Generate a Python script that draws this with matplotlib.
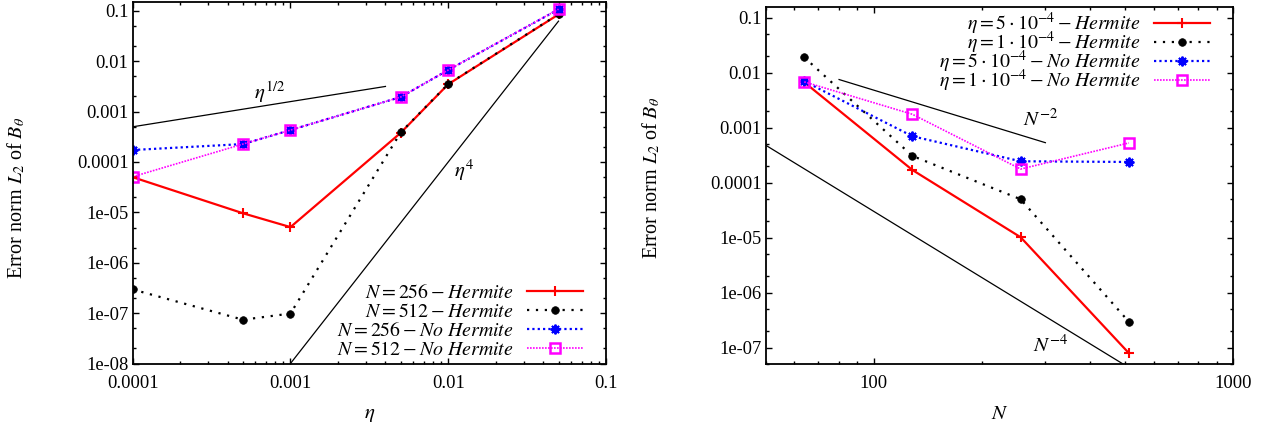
import matplotlib
matplotlib.use("Agg")
import matplotlib.pyplot as plt
import numpy as np
from matplotlib.ticker import FixedLocator, FixedFormatter, NullFormatter

plt.rcParams['font.family'] = ['Liberation Serif', 'DejaVu Serif']
plt.rcParams['mathtext.fontset'] = 'stix'
plt.rcParams['font.size'] = 13.3

# ---------------- data: left panel (error vs eta) ----------------
eta = [1e-4, 5e-4, 1e-3, 5e-3, 1e-2, 5e-2]
err_N256_herm = [5.0e-5, 9.6e-6, 5.1e-6, 3.8e-4, 3.5e-3, 0.085]
err_N512_herm = [2.95e-7, 7.4e-8, 9.8e-8, 3.87e-4, 3.54e-3, 0.086]
err_N256_noherm = [1.73e-4, 2.27e-4, 4.3e-4, 1.95e-3, 6.7e-3, 0.107]
err_N512_noherm = [5.1e-5, 2.27e-4, 4.3e-4, 1.95e-3, 6.7e-3, 0.108]
labels_left = [r"$N = 256 - \mathit{Hermite}$",
               r"$N = 512 - \mathit{Hermite}$",
               r"$N = 256 - \mathit{No\ Hermite}$",
               r"$N = 512 - \mathit{No\ Hermite}$"]
# reference slopes
eta_half_range = [1e-4, 4e-3]
eta_half_coef = 0.05
eta_four_range = [1e-3, 5e-2]
eta_four_coef = 1e4

# ---------------- data: right panel (error vs N) ----------------
Nvals = [64, 128, 256, 512]
err_eta5_herm = [6.7e-3, 1.70e-4, 1.02e-5, 8.0e-8]
err_eta1_herm = [1.9e-2, 3.06e-4, 5.0e-5, 2.97e-7]
err_eta5_noherm = [6.98e-3, 6.98e-4, 2.45e-4, 2.38e-4]
err_eta1_noherm = [6.8e-3, 1.75e-3, 1.77e-4, 5.27e-4]
labels_right = [r"$\eta = 5\cdot10^{-4} - \mathit{Hermite}$",
                r"$\eta = 1\cdot10^{-4} - \mathit{Hermite}$",
                r"$\eta = 5\cdot10^{-4} - \mathit{No\ Hermite}$",
                r"$\eta = 1\cdot10^{-4} - \mathit{No\ Hermite}$"]
N_m2_range = [80, 300]
N_m2_coef = 48.0
N_m4_range = [50, 1000]
N_m4_coef = 3000.0

# ---------------- ticks ----------------
yticks_left = [1e-8, 1e-7, 1e-6, 1e-5, 1e-4, 1e-3, 1e-2, 1e-1]
yticklabels_left = ["1e-08", "1e-07", "1e-06", "1e-05", "0.0001", "0.001", "0.01", "0.1"]
xticks_left = [1e-4, 1e-3, 1e-2, 1e-1]
xticklabels_left = ["0.0001", "0.001", "0.01", "0.1"]
yticks_right = [1e-7, 1e-6, 1e-5, 1e-4, 1e-3, 1e-2, 1e-1]
yticklabels_right = ["1e-07", "1e-06", "1e-05", "0.0001", "0.001", "0.01", "0.1"]
xticks_right = [100, 1000]
xticklabels_right = ["100", "1000"]

W, H = 1275, 428
fig = plt.figure(figsize=(W / 100, H / 100), dpi=100)

def px_axes(l, r, t, b):
    return fig.add_axes([l / W, 1 - b / H, (r - l) / W, (b - t) / H])

ax1 = px_axes(132.7, 606.0, 2.0, 363.5)
ax2 = px_axes(765.7, 1233.3, 6.7, 364.3)

styles = [
    dict(color='#ff0000', ls='-', lw=1.6, marker='+', ms=6.5, mew=1.5),
    dict(color='black', ls=(0, (1.0, 3.0)), lw=1.6, marker='o', ms=5.5, mew=0.5),
    dict(color='#0000ff', ls=(0, (1.0, 1.4)), lw=1.6, marker=(8, 2, 0), ms=7, mew=1.4),
    dict(color='#ff00ff', ls=(0, (1.0, 0.8)), lw=1.2, marker='s', ms=7, mew=1.8, mfc='none'),
]

for y, lab, st in zip([err_N256_herm, err_N512_herm, err_N256_noherm, err_N512_noherm], labels_left, styles):
    ax1.plot(eta, y, label=lab, **st)

e = np.logspace(np.log10(eta_half_range[0]), np.log10(eta_half_range[1]), 50)
ax1.plot(e, eta_half_coef * e ** 0.5, color='black', lw=0.9)
e = np.logspace(np.log10(eta_four_range[0]), np.log10(eta_four_range[1]), 50)
ax1.plot(e, eta_four_coef * e ** 4, color='black', lw=0.9)

for y, lab, st in zip([err_eta5_herm, err_eta1_herm, err_eta5_noherm, err_eta1_noherm], labels_right, styles):
    ax2.plot(Nvals, y, label=lab, **st)

n = np.logspace(np.log10(N_m2_range[0]), np.log10(N_m2_range[1]), 50)
ax2.plot(n, N_m2_coef * n ** -2.0, color='black', lw=0.9)
n = np.logspace(np.log10(N_m4_range[0]), np.log10(N_m4_range[1]), 50)
ax2.plot(n, N_m4_coef * n ** -4.0, color='black', lw=0.9)

ax1.set_xscale('log'); ax1.set_yscale('log')
ax2.set_xscale('log'); ax2.set_yscale('log')
ax1.set_xlim(1e-4, 0.1); ax1.set_ylim(1e-8, 0.15)
ax2.set_xlim(50, 1000); ax2.set_ylim(5e-8, 0.158)

def style_axes(ax, xt, xtl, yt, ytl):
    ax.xaxis.set_major_locator(FixedLocator(xt))
    ax.xaxis.set_major_formatter(FixedFormatter(xtl))
    ax.yaxis.set_major_locator(FixedLocator(yt))
    ax.yaxis.set_major_formatter(FixedFormatter(ytl))
    ax.xaxis.set_minor_locator(matplotlib.ticker.LogLocator(base=10, subs=np.arange(2, 10), numticks=20))
    ax.yaxis.set_minor_locator(matplotlib.ticker.LogLocator(base=10, subs=[2, 5], numticks=20))
    ax.xaxis.set_minor_formatter(NullFormatter())
    ax.yaxis.set_minor_formatter(NullFormatter())
    ax.tick_params(which='both', direction='in', top=True, right=True, width=1.0, labelsize=13.3)
    ax.tick_params(which='major', length=4.5)
    ax.tick_params(which='minor', length=2.5)
    ax.tick_params(axis='x', which='major', pad=8)
    ax.tick_params(axis='y', which='major', pad=3)
    for s in ax.spines.values():
        s.set_linewidth(1.3)

style_axes(ax1, xticks_left, xticklabels_left, yticks_left, yticklabels_left)
style_axes(ax2, xticks_right, xticklabels_right, yticks_right, yticklabels_right)

ax1.set_xlabel(r"$\eta$", fontsize=15)
ax2.set_xlabel(r"$N$", fontsize=15)
ax1.xaxis.set_label_coords(0.5, -0.115)
ax2.xaxis.set_label_coords(0.5, -0.115)
ax1.set_ylabel(r"Error norm $L_2$ of $B_\theta$", fontsize=14.5)
ax2.set_ylabel(r"Error norm $L_2$ of $B_\theta$", fontsize=14.5)
ax1.yaxis.set_label_coords((27 - 132.7) / 473.3, 0.458)
ax2.yaxis.set_label_coords((662 - 765.7) / 467.6, 0.521)

def px_text(ax, l, r, t, b, x, y, s):
    ax.text((x - l) / (r - l), (b - y) / (b - t), s, transform=ax.transAxes,
            ha='center', va='center', fontsize=15)

px_text(ax1, 132.7, 606.0, 2.0, 363.5, 270, 92, r"$\eta^{1/2}$")
px_text(ax1, 132.7, 606.0, 2.0, 363.5, 464, 170, r"$\eta^{4}$")
px_text(ax2, 765.7, 1233.3, 6.7, 364.3, 1041, 120, r"$N^{-2}$")
px_text(ax2, 765.7, 1233.3, 6.7, 364.3, 1051, 346, r"$N^{-4}$")

leg_kw = dict(frameon=False, markerfirst=False, handlelength=2.8, handletextpad=0.7,
              borderpad=0, borderaxespad=0, fontsize=14.3, numpoints=1)
ax1.legend(loc='lower right', bbox_to_anchor=((582.7 - 132.7) / 473.3, 0.011),
           labelspacing=0.0, **leg_kw)
ax2.legend(loc='upper right', bbox_to_anchor=((1210 - 765.7) / 467.6, 0.988),
           labelspacing=-0.36, **leg_kw)

fig.savefig("out.png", dpi=100)
